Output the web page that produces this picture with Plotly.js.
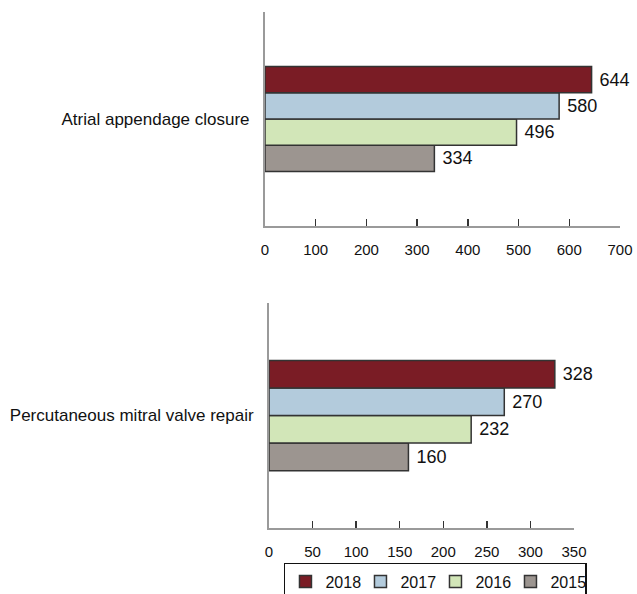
<!DOCTYPE html>
<html>
<head>
<meta charset="utf-8">
<script src="https://cdn.plot.ly/plotly-3.0.1.min.js"></script>
<style>html,body{margin:0;padding:0;background:#fff;}#chart{width:637px;height:594px;}</style>
</head>
<body>
<div id="chart"></div>
<script>
// Data
const years = ["2015", "2016", "2017", "2018"];
const categoryTop = ["Atrial appendage closure"];
const categoryBottom = ["Percutaneous mitral valve repair"];
const valuesTop = [334, 496, 580, 644];       // 2015, 2016, 2017, 2018
const valuesBottom = [160, 232, 270, 328];    // 2015, 2016, 2017, 2018
const colors = ["#9c9590", "#d2e6b8", "#b3cbdc", "#7a1c25"];

const FONT = "Liberation Sans, Arial, Helvetica, sans-serif";

const traces = [];
years.forEach((yr, i) => {
  traces.push({
    type: "bar", orientation: "h",
    x: [valuesTop[i]], y: categoryTop,
    xaxis: "x", yaxis: "y",
    name: yr, legendgroup: yr, showlegend: false,
    marker: {color: colors[i], line: {color: "#333", width: 1.5}},
    texttemplate: "\u00A0%{x}", textposition: "outside", cliponaxis: false,
    constraintext: "none",
    textfont: {size: 18, color: "#111", family: FONT},
    hoverinfo: "x+name"
  });
});
years.forEach((yr, i) => {
  traces.push({
    type: "bar", orientation: "h",
    x: [valuesBottom[i]], y: categoryBottom,
    xaxis: "x2", yaxis: "y2",
    name: yr, legendgroup: yr, showlegend: true,
    marker: {color: colors[i], line: {color: "#333", width: 1.5}},
    texttemplate: "\u00A0%{x}", textposition: "outside", cliponaxis: false,
    constraintext: "none",
    textfont: {size: 18, color: "#111", family: FONT},
    hoverinfo: "x+name"
  });
});

const xCommon = {
  showgrid: false, zeroline: false, showline: true,
  linecolor: "#9a9a9a", linewidth: 2,
  ticks: "inside", ticklen: 7, tickwidth: 1.5, tickcolor: "#333",
  tickfont: {size: 15, color: "#111", family: FONT},
  ticklabelstandoff: 9, fixedrange: true
};
const yCommon = {
  showgrid: false, zeroline: false, showline: true,
  linecolor: "#9a9a9a", linewidth: 2, ticks: "",
  tickfont: {size: 17, color: "#111", family: FONT},
  ticklabelstandoff: 10, fixedrange: true
};

const layout = {
  width: 637, height: 594,
  margin: {l: 0, r: 0, t: 0, b: 0, autoexpand: false},
  paper_bgcolor: "#fff", plot_bgcolor: "rgba(0,0,0,0)",
  font: {family: FONT, color: "#111"},
  barmode: "group", bargap: 0.51, bargroupgap: 0,
  xaxis: Object.assign({}, xCommon, {domain: [0.416, 0.9733], range: [0, 700], dtick: 100, anchor: "y"}),
  yaxis: Object.assign({}, yCommon, {domain: [0.6195, 0.9798], anchor: "x"}),
  xaxis2: Object.assign({}, xCommon, {domain: [0.4223, 0.9011], range: [0, 350], dtick: 50, anchor: "y2"}),
  yaxis2: Object.assign({}, yCommon, {domain: [0.1111, 0.4899], anchor: "x2"}),
  showlegend: true,
  legend: {
    orientation: "h", traceorder: "reversed",
    x: 0.4458, xanchor: "left", y: 0.0522, yanchor: "top",
    bordercolor: "#111", borderwidth: 1.5, bgcolor: "#fff",
    font: {size: 16, color: "#111", family: FONT},
    entrywidth: 30, entrywidthmode: "pixels"
  }
};

Plotly.newPlot("chart", traces, layout, {displayModeBar: false, staticPlot: true});
</script>
</body>
</html>
